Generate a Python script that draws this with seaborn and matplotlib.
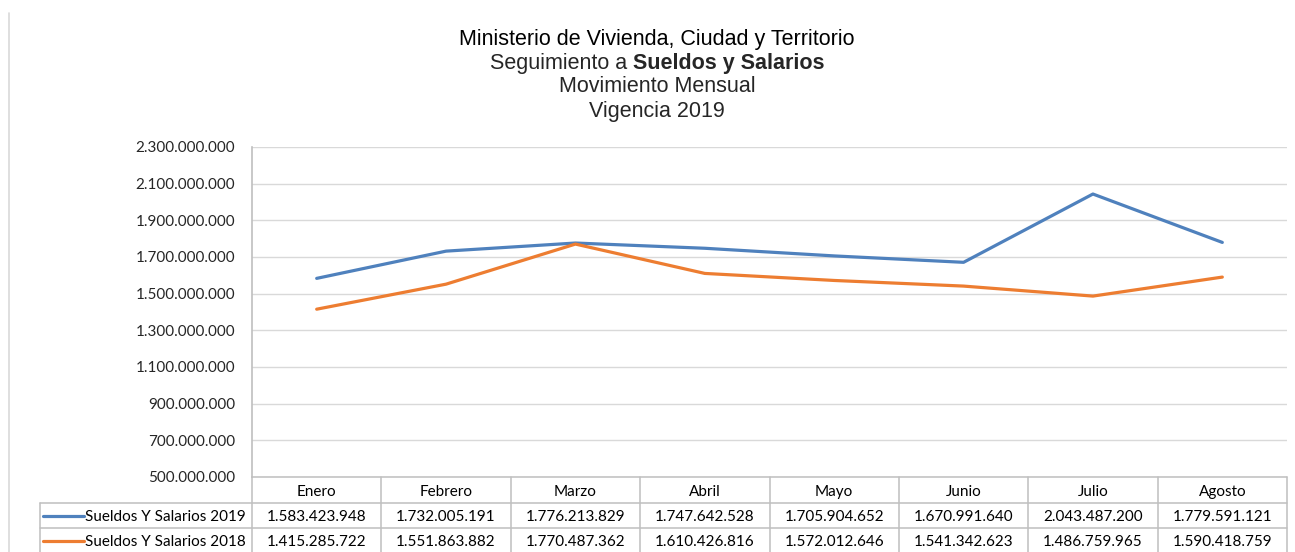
import matplotlib
matplotlib.use("Agg")
import matplotlib.pyplot as plt
import seaborn as sns
import pandas as pd
from matplotlib.lines import Line2D

months = ["Enero", "Febrero", "Marzo", "Abril", "Mayo", "Junio", "Julio", "Agosto"]
sueldos_2019 = [1583423948, 1732005191, 1776213829, 1747642528, 1705904652, 1670991640, 2043487200, 1779591121]
sueldos_2018 = [1415285722, 1551863882, 1770487362, 1610426816, 1572012646, 1541342623, 1486759965, 1590418759]
series_names = ["Sueldos Y Salarios 2019", "Sueldos Y Salarios 2018"]
yticks = [500000000, 700000000, 900000000, 1100000000, 1300000000, 1500000000,
          1700000000, 1900000000, 2100000000, 2300000000]

colors = ["#4F81BD", "#ED7D31"]
grid_c = "#D9D9D9"
border_c = "#BFBFBF"

sns.set_style("white")
plt.rcParams["font.family"] = ["Lato", "DejaVu Sans"]

W, H = 1295, 552
fig = plt.figure(figsize=(W / 100, H / 100), dpi=100)

def fx(px):
    return px / W

def fy(py):
    return 1 - py / H

L, R, T, B = 252, 1287, 147, 477
ax = fig.add_axes([fx(L), fy(B), fx(R) - fx(L), fy(T) - fy(B)])

df = pd.DataFrame({
    "x": list(range(len(months))) * 2,
    "value": sueldos_2019 + sueldos_2018,
    "serie": [series_names[0]] * len(months) + [series_names[1]] * len(months),
})
sns.lineplot(data=df, x="x", y="value", hue="serie", palette=colors,
             hue_order=series_names, linewidth=2.3, sort=False, legend=False, ax=ax)

ax.set_xlim(-0.5, len(months) - 0.5)
ax.set_ylim(yticks[0], yticks[-1])
ax.set_yticks(yticks)
ax.set_yticklabels([f"{v:,}".replace(",", ".") for v in yticks], fontsize=11, color="#262626")
ax.tick_params(axis="y", length=0, pad=12)
ax.set_xticks([])
ax.set_xlabel("")
ax.set_ylabel("")
for y in yticks:
    ax.axhline(y, color=grid_c, lw=1, zorder=0)
for s in ["top", "right", "bottom"]:
    ax.spines[s].set_visible(False)
ax.spines["left"].set_color(border_c)
ax.spines["left"].set_linewidth(1.2)

# Title
TS = 15.5
fig.text(fx(657), fy(40), "Ministerio de Vivienda, Ciudad y Territorio", ha="center", va="center",
         fontsize=TS, family="Liberation Sans", color="#000000")
t1 = fig.text(0, fy(63), "Seguimiento a ", ha="left", va="center", fontsize=TS,
              family="Liberation Sans")
t2 = fig.text(0, fy(63), "Sueldos y Salarios", ha="left", va="center", fontsize=TS,
              family="Liberation Sans", weight="bold")
fig.canvas.draw()
r = fig.canvas.get_renderer()
w1 = t1.get_window_extent(r).width
w2 = t2.get_window_extent(r).width
x0 = 657 - (w1 + w2) / 2
t1.set_x(fx(x0))
t2.set_x(fx(x0 + w1))
fig.text(fx(657), fy(87), "Movimiento Mensual", ha="center", va="center",
         fontsize=TS, family="Liberation Sans")
fig.text(fx(657), fy(111), "Vigencia 2019", ha="center", va="center",
         fontsize=TS, family="Liberation Sans")

# Left frame line
fig.add_artist(Line2D([fx(9), fx(9)], [fy(13), fy(552)], color="#D9D9D9", lw=1.2))

# Data table
n = len(months)
colw = (R - L) / n
row_y = [477, 503, 528, 553]
tab_left = 40
FS = 11

def hline(x1, x2, y):
    fig.add_artist(Line2D([fx(x1), fx(x2)], [fy(y), fy(y)], color=border_c, lw=1.1))

def vline(x, y1, y2):
    fig.add_artist(Line2D([fx(x), fx(x)], [fy(y1), fy(y2)], color=border_c, lw=1.1))

hline(L, R, row_y[0])
hline(tab_left, R, row_y[1])
hline(tab_left, R, row_y[2])
vline(tab_left, row_y[1], 552)
for k in range(n + 1):
    vline(L + k * colw, row_y[0], 552)

for k, m in enumerate(months):
    cx = L + (k + 0.5) * colw
    fig.text(fx(cx), fy((row_y[0] + row_y[1]) / 2 + 2), m, ha="center", va="center",
             fontsize=FS, color="#000000")

for i, (name, vals) in enumerate(zip(series_names, [sueldos_2019, sueldos_2018])):
    cy = (row_y[i + 1] + row_y[i + 2]) / 2
    fig.add_artist(Line2D([fx(43), fx(84)], [fy(cy), fy(cy)], color=colors[i], lw=2.3))
    fig.text(fx(85), fy(cy + 1.5), name, ha="left", va="center", fontsize=FS, color="#000000")
    for k, v in enumerate(vals):
        cx = L + (k + 0.5) * colw
        fig.text(fx(cx), fy(cy + 1.5), f"{v:,}".replace(",", "."), ha="center", va="center",
                 fontsize=FS, color="#000000")

fig.savefig("out.png", dpi=100)
